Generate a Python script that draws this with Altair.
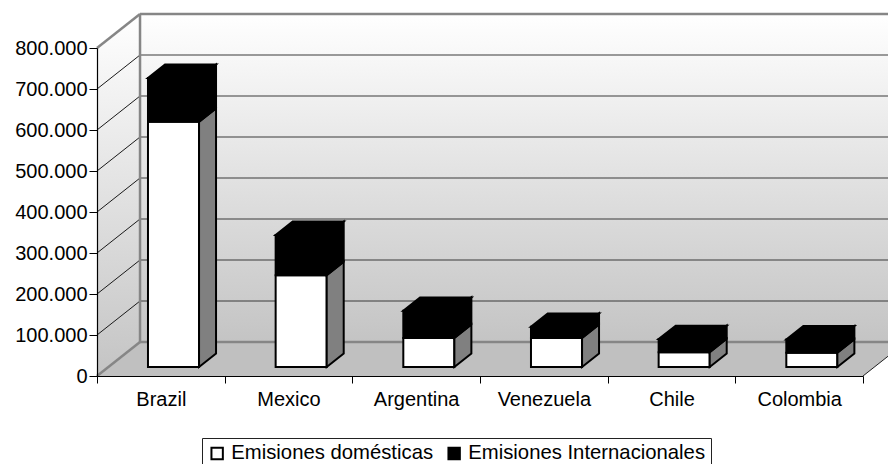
import altair as alt
import pandas as pd

# ---------------- data (thousands of units) ----------------
countries = ["Brazil", "Mexico", "Argentina", "Venezuela", "Chile", "Colombia"]
domestic = [598, 224, 71, 71, 36, 35]
international = [107, 98, 66, 27, 32, 32]
series = ["Emisiones domésticas", "Emisiones Internacionales"]
y_ticks = [0, 100, 200, 300, 400, 500, 600, 700, 800]

# ---------------- style / 3-D projection ----------------
series_colors = ["#ffffff", "#000000"]
side_colors = ["#808080", "#000000"]
FONT = "Liberation Sans"
N = len(countries)
YMAX = y_ticks[-1]
DX = 0.337      # full depth offset in category units
DY = 82.9       # full depth offset in value units
F0, F1 = 0.265, 0.66   # bar depth range (fraction of full depth)
BL, BR = 0.31, 0.71    # bar extent inside a category slot

# ---------------- build faces from data ----------------
front_rows, side_rows, top_rows = [], [], []
for i, c in enumerate(countries):
    base = 0
    for s, vals, scol in [(series[0], domestic, side_colors[0]),
                          (series[1], international, side_colors[1])]:
        top = base + vals[i]
        front_rows.append(dict(country=c, series=s,
                               x=i + BL + F0 * DX, x2=i + BR + F0 * DX,
                               y=base + F0 * DY, y2=top + F0 * DY))
        for f in (F0, F1):
            side_rows.append(dict(key=f"{c}|{s}", series=s, shade=scol,
                                  x=i + BR + f * DX,
                                  y=top + f * DY, y2=base + f * DY))
        base = top
    for f in (F0, F1):
        top_rows.append(dict(key=c, x=i + BL + f * DX, x2=i + BR + f * DX,
                             y=base + f * DY))

front_df = pd.DataFrame(front_rows)
side_df = pd.DataFrame(side_rows)
top_df = pd.DataFrame(top_rows)

xs = alt.Scale(domain=[0, N], nice=False, zero=False)
ys = alt.Scale(domain=[0, YMAX], nice=False, zero=False)

# shared axes (identical in every layer so that they merge cleanly)
x_vals = [k / 2 for k in range(2 * N + 1)]
names_js = "[" + ",".join("'" + c + "'" for c in countries) + "]"
X_AXIS = alt.Axis(
    values=x_vals, grid=False,
    labelExpr=f"datum.value % 1 == 0.5 ? {names_js}[floor(datum.value)] : ''",
    labelOverlap=False, labelFlush=False, labelBound=False,
    tickSize=7, tickColor="black", tickWidth=1,
    tickOpacity={"condition": {"test": "datum.value % 1 == 0", "value": 1}, "value": 0},
    domainColor="black", domainWidth=1.2, labelPadding=6,
    labelFont=FONT, labelFontSize=20, labelColor="black", zindex=1)
Y_AXIS = alt.Axis(
    values=y_ticks, grid=False,
    labelExpr="datum.value == 0 ? '0' : datum.value + '.000'",
    tickSize=8, tickColor="black", tickWidth=1,
    domainColor="black", domainWidth=1.2, labelPadding=2,
    labelFont=FONT, labelFontSize=20, labelColor="black", zindex=1)


def X(field, **kw):
    return alt.X(field, scale=xs, title=None, axis=X_AXIS, **kw)


def Y(field, **kw):
    return alt.Y(field, scale=ys, title=None, axis=Y_AXIS, **kw)


grad = alt.Gradient(gradient="linear", x1=0, x2=0, y1=0, y2=1,
                    stops=[alt.GradientStop(color="#ffffff", offset=0),
                           alt.GradientStop(color="#c4c4c4", offset=1)])

# ---------------- walls & floor ----------------
back_df = pd.DataFrame([dict(x=DX, x2=N + DX, y=DY, y2=YMAX + DY)])
back = alt.Chart(back_df).mark_rect(fill=grad).encode(
    x=X("x:Q"), x2="x2:Q", y=Y("y:Q"), y2="y2:Q",
)

sidewall_df = pd.DataFrame([dict(x=0, y=YMAX, y2=0), dict(x=DX, y=YMAX + DY, y2=DY)])
sidewall = alt.Chart(sidewall_df).mark_area(fill=grad, orient="vertical").encode(
    x=X("x:Q"), y=Y("y:Q", stack=None), y2="y2:Q",
)

floor_df = pd.DataFrame([dict(y=0, x=0, x2=N), dict(y=DY, x=DX, x2=N + DX)])
floor = alt.Chart(floor_df).mark_area(fill="#c0c0c0", orient="horizontal").encode(
    y=Y("y:Q"), x=X("x:Q", stack=None), x2="x2:Q",
)

grid_vals = y_ticks[1:-1]
grid_df = pd.DataFrame([dict(v=v, yb=v + DY) for v in grid_vals])
back_grid = alt.Chart(grid_df).mark_rule(color="#3a3a3a", strokeWidth=1.2).encode(
    x=X("xa:Q"), x2="xb:Q", y=Y("yb:Q"),
).transform_calculate(xa=f"{DX}", xb=f"{N + DX}")
side_grid = alt.Chart(grid_df).mark_rule(color="#1a1a1a", strokeWidth=1).encode(
    x=X("xa:Q"), x2="xb:Q", y=Y("v:Q"), y2="yb:Q",
).transform_calculate(xa="0", xb=f"{DX}")

frame_df = pd.DataFrame([
    dict(x=DX, x2=N + DX, y=YMAX + DY, y2=YMAX + DY),
    dict(x=DX, x2=DX, y=DY, y2=YMAX + DY),
    dict(x=0, x2=DX, y=YMAX, y2=YMAX + DY),
    dict(x=DX, x2=N + DX, y=DY, y2=DY),
    dict(x=0, x2=DX, y=0, y2=DY),
])
frame = alt.Chart(frame_df).mark_rule(color="#868686", strokeWidth=2.5).encode(
    x=X("x:Q"), x2="x2:Q", y=Y("y:Q"), y2="y2:Q",
)
floor_edge = alt.Chart(pd.DataFrame([dict(x=N, x2=N + DX, y=0, y2=DY)])).mark_rule(
    color="#222222", strokeWidth=1).encode(
    x=X("x:Q"), x2="x2:Q", y=Y("y:Q"), y2="y2:Q",
)

# ---------------- bars ----------------
fronts = alt.Chart(front_df).mark_rect(stroke="black", strokeWidth=2).encode(
    x=X("x:Q"), x2="x2:Q", y=Y("y:Q"), y2="y2:Q",
    color=alt.Color("series:N", scale=alt.Scale(domain=series, range=series_colors),
                    legend=alt.Legend(
                        orient="none", legendX=105, legendY=390, direction="horizontal",
                        title=None, symbolType="square", symbolSize=130,
                        symbolStrokeColor="black", symbolStrokeWidth=2,
                        labelFont=FONT, labelFontSize=20.3, labelColor="black",
                        labelOffset=4, columnPadding=10, padding=5, labelLimit=0,
                        strokeColor="#222222", fillColor="white", cornerRadius=0)),
)

sides = alt.Chart(side_df).mark_area(stroke="black", strokeWidth=2, orient="vertical",
                                     strokeJoin="miter").encode(
    x=X("x:Q"), y=Y("y:Q", stack=None), y2="y2:Q",
    detail="key:N",
    fill=alt.Fill("shade:N", scale=None),
)

tops = alt.Chart(top_df).mark_area(stroke="black", strokeWidth=2, orient="horizontal",
                                   fill="black", strokeJoin="miter").encode(
    y=Y("y:Q"), x=X("x:Q", stack=None), x2="x2:Q",
    detail="key:N",
)

chart = alt.layer(
    back, sidewall, floor, back_grid, side_grid, frame, floor_edge,
    fronts, sides, tops,
).resolve_scale(color="independent", fill="independent").properties(
    width=766, height=328,
    autosize=alt.AutoSizeParams(type="none"),
    padding={"left": 89, "top": 40, "right": 25, "bottom": 88},
    background="white",
).configure_view(stroke=None)

chart.save("out.html", embed_options={"renderer": "svg", "actions": False})
